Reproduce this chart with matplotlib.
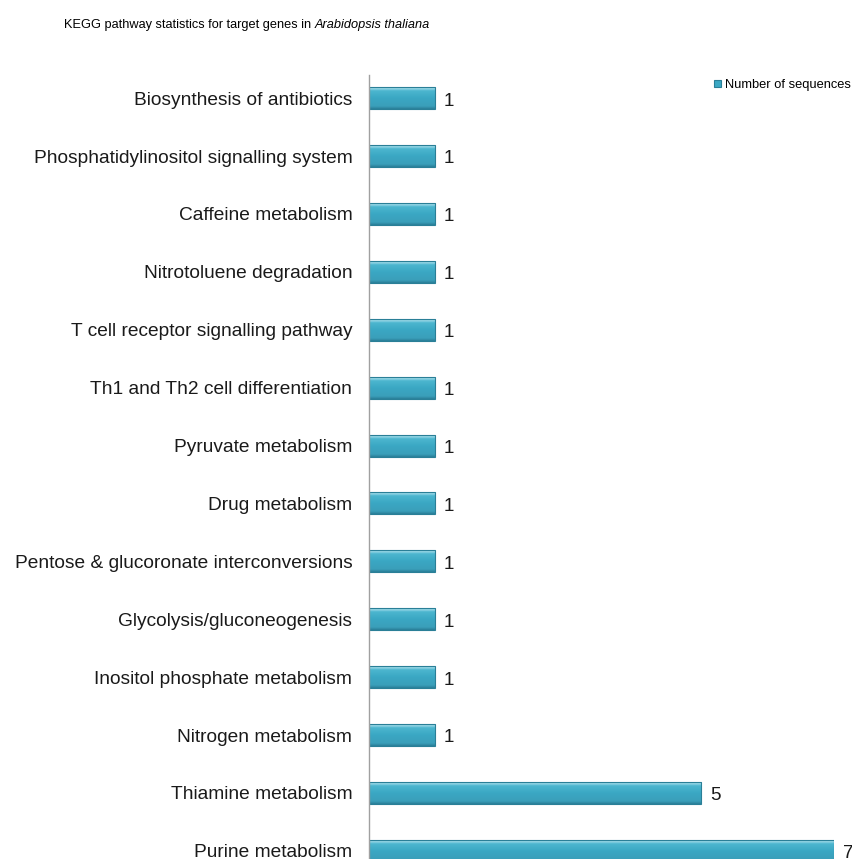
import numpy as np
import matplotlib.pyplot as plt
from matplotlib.colors import LinearSegmentedColormap

# pathways listed from bottom to top
pathways = ['Purine metabolism', 'Thiamine metabolism', 'Nitrogen metabolism',
            'Inositol phosphate metabolism', 'Glycolysis/gluconeogenesis',
            'Pentose & glucoronate interconversions', 'Drug metabolism',
            'Pyruvate metabolism', 'Th1 and Th2 cell differentiation',
            'T cell receptor signalling pathway', 'Nitrotoluene degradation',
            'Caffeine metabolism', 'Phosphatidylinositol signalling system',
            'Biosynthesis of antibiotics']
counts = [7, 5, 1, 1, 1, 1, 1, 1, 1, 1, 1, 1, 1, 1]
legend_label = 'Number of sequences'

plt.rcParams['font.family'] = ['Liberation Sans', 'DejaVu Sans']

fig = plt.figure(figsize=(8.53, 8.59), dpi=100)
ax = fig.add_axes([369/853, 0, 465/853, 784/859])

y = np.arange(len(pathways))
h = 0.38
bars = ax.barh(y, counts, height=h, color='#3aa6c2', edgecolor='#2a7f97',
               linewidth=0.8, label=legend_label, zorder=3)

# vertical gradient inside each bar (bevel look)
cmap = LinearSegmentedColormap.from_list(
    'bev', [(0.0, '#2b8099'), (0.12, '#3a9fba'), (0.5, '#3ba8c4'),
            (0.8, '#4cb6cf'), (0.9, '#9ad8e7'), (1.0, '#5ab9d0')])
grad = np.linspace(0, 1, 64).reshape(-1, 1)
for b in bars:
    b.set_facecolor('none')
    x0, y0 = b.get_x(), b.get_y()
    im = ax.imshow(grad, cmap=cmap, origin='lower', aspect='auto',
                   extent=(x0, x0 + b.get_width(), y0, y0 + b.get_height()),
                   zorder=2)
    im.set_clip_path(b)

for yi, c in zip(y, counts):
    ax.text(c + 0.13, yi - 0.05, str(c), va='center', ha='left', fontsize=13.5,
            color='#1a1a1a', clip_on=False)

ax.set_xlim(0, 7)
ax.set_ylim(-0.14, len(pathways) - 1 + 0.4)
ax.set_yticks(y)
ax.set_yticklabels(pathways, fontsize=13.8, color='#1a1a1a')
ax.tick_params(axis='y', length=0, pad=12)
ax.set_xticks([])
for s in ['top', 'right', 'bottom']:
    ax.spines[s].set_visible(False)
ax.spines['left'].set_color('#a0a0a0')
ax.spines['left'].set_linewidth(1)
ax.spines['left'].set_zorder(4)

leg = ax.legend(handles=[bars], loc='upper left',
                bbox_to_anchor=(714/853, 1 - 79/859),
                bbox_transform=fig.transFigure, frameon=False, fontsize=9.3,
                handlelength=0.55, handleheight=0.55, handletextpad=0.3,
                borderaxespad=0, borderpad=0)
leg.legend_handles[0].set_facecolor('#3ba8c4')

title_kw = dict(fontsize=9.2, va='center', ha='left')
t1 = fig.text(0, 1 - 25/859, 'KEGG pathway statistics for target genes in ',
              **title_kw)
t2 = fig.text(0, 1 - 25/859, 'Arabidopsis thaliana', style='italic',
              **title_kw)
fig.canvas.draw()
w1 = t1.get_window_extent().width
w2 = t2.get_window_extent().width
start = 247 - (w1 + w2) / 2
t1.set_x(start / 853)
t2.set_x((start + w1) / 853)

fig.savefig('out.png', dpi=100)
